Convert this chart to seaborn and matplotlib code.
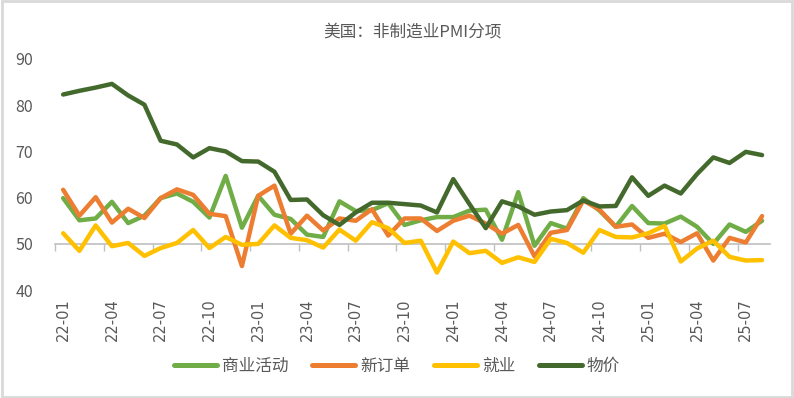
import matplotlib
matplotlib.use("Agg")
import matplotlib.pyplot as plt
import seaborn as sns
import pandas as pd
from matplotlib.patches import Rectangle

# data
months = [f"{y}-{m:02d}" for y in (22, 23, 24, 25) for m in range(1, 13)][:44]

business = [59.9, 55.1, 55.5, 59.1, 54.5, 56.1, 59.9, 60.9, 59.1, 55.7, 64.7, 53.5,
            60.4, 56.3, 55.4, 52.0, 51.5, 59.2, 57.1, 57.3, 58.8, 54.1, 55.1, 55.8,
            55.8, 57.2, 57.4, 50.9, 61.2, 49.6, 54.5, 53.3, 59.9, 57.2, 53.7, 58.2,
            54.5, 54.4, 55.9, 53.7, 50.0, 54.2, 52.6, 55.0]
new_orders = [61.7, 56.1, 60.1, 54.6, 57.6, 55.6, 59.9, 61.8, 60.6, 56.5, 56.0, 45.2,
              60.4, 62.6, 52.2, 56.1, 52.9, 55.5, 55.0, 57.5, 51.8, 55.5, 55.5, 52.8,
              55.0, 56.1, 54.4, 52.2, 54.1, 47.3, 52.4, 53.0, 59.4, 57.4, 53.7, 54.2,
              51.3, 52.2, 50.4, 52.3, 46.4, 51.3, 50.3, 56.0]
employment = [52.3, 48.5, 54.0, 49.5, 50.2, 47.4, 49.1, 50.2, 53.0, 49.1, 51.5, 49.8,
              50.0, 54.0, 51.3, 50.8, 49.2, 53.1, 50.7, 54.7, 53.4, 50.2, 50.7, 43.8,
              50.5, 48.0, 48.5, 45.9, 47.1, 46.1, 51.1, 50.2, 48.1, 53.0, 51.5, 51.4,
              52.3, 53.9, 46.2, 49.0, 50.7, 47.2, 46.4, 46.5]
prices = [82.3, 83.1, 83.8, 84.6, 82.1, 80.1, 72.3, 71.5, 68.7, 70.7, 70.0, 67.9,
          67.8, 65.6, 59.5, 59.6, 56.2, 54.1, 56.8, 58.9, 58.9, 58.6, 58.3, 56.8,
          64.0, 58.6, 53.4, 59.2, 58.1, 56.3, 57.0, 57.3, 59.4, 58.1, 58.2, 64.4,
          60.4, 62.6, 60.9, 65.1, 68.7, 67.5, 69.9, 69.2]

series_names = ["商业活动", "新订单", "就业", "物价"]
colors = ["#70AD47", "#ED7D31", "#FFC000", "#436A2C"]

idx = list(range(len(months)))
df = pd.concat([
    pd.DataFrame({"i": idx, "value": vals, "series": name})
    for name, vals in zip(series_names, [business, new_orders, employment, prices])
])

sns.set_theme(style="white")
plt.rcParams["font.family"] = ["Noto Sans CJK SC", "DejaVu Sans"]

fig = plt.figure(figsize=(7.94, 3.98), dpi=100)
ax = fig.add_axes([0.0693, 0.271, 0.9007, 0.581])

sns.lineplot(data=df, x="i", y="value", hue="series", hue_order=series_names,
             palette=colors, linewidth=3.2, ax=ax, legend=False)

ax.set_xlim(-0.5, len(months) - 0.5)
ax.set_ylim(40, 90)
ax.set_yticks(range(40, 91, 10))
ax.set_xticks(idx[::3])
ax.set_xticklabels(months[::3], rotation=90, fontsize=10.5, color="#595959",
                   family=["DejaVu Sans"])
ax.tick_params(axis="y", length=0, labelsize=11.5, labelcolor="#595959", pad=16)
ax.tick_params(axis="x", length=0, pad=6)
for s in ax.spines.values():
    s.set_visible(False)
ax.set_xlabel("")
ax.set_ylabel("")

# category axis crossing at 50
sec = ax.secondary_xaxis(0.2)
sec.set_xticks([i - 0.5 for i in idx[::3]])
sec.set_xticklabels([])
sec.tick_params(axis="x", length=5, width=1, color="#BFBFBF", direction="out")
sec.spines["bottom"].set_color("#BFBFBF")
sec.spines["bottom"].set_linewidth(1.2)

ax.set_title("美国：非制造业PMI分项", fontsize=12, color="#595959", pad=16)

handles = [plt.Line2D([], [], color=c, lw=3.6) for c in colors]
fig.legend(handles, series_names, loc="center", bbox_to_anchor=(0.5, 0.08),
           ncol=4, frameon=False, fontsize=12, handlelength=2.6,
           columnspacing=1.4, handletextpad=0.3, labelcolor="#595959")

fig.patches.append(Rectangle((0.002, 0.003), 0.996, 0.994, transform=fig.transFigure,
                             fill=False, edgecolor="#D9D9D9", linewidth=2))

fig.savefig("out.png", dpi=100)
